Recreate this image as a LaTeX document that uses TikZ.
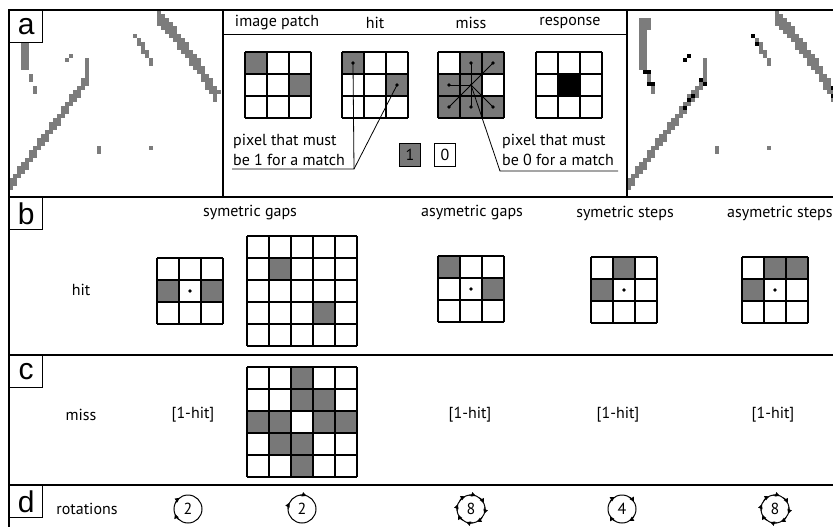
\documentclass[tikz,border=0pt]{standalone}
\usepackage{fontspec}
\setmainfont{PT Sans}
\newfontfamily\labelfont{Liberation Sans}
\usetikzlibrary{arrows.meta}
\definecolor{CellGray}{HTML}{787878}
\definecolor{PixGray}{HTML}{7C7C7C}

% n x n kernel grid: x, y (top left), n, cell size
\newcommand{\kgrid}[4]{%
  \foreach \k in {0,...,#3} {
    \draw[gridline] (#1+\k*#4,#2) -- (#1+\k*#4,#2+#3*#4);
    \draw[gridline] (#1,#2+\k*#4) -- (#1+#3*#4,#2+\k*#4);
  }}
% filled cells: x, y, cell size, list col/row, colour
\newcommand{\kfill}[5]{%
  \foreach \c/\r in {#4} {\fill[#5] (#1+\c*#3,#2+\r*#3) rectangle ++(#3,#3);}}
% thinned edge image (pixel units), x offset
\newcommand{\edgeimage}[1]{%
  \begin{scope}[shift={(#1,10)},x=4pt,y=-4pt]
    \foreach \i/\ja/\jb in {3/2/14,4/2/14,5/2/4,5/16/17,6/19/20,14/12/12,15/11/11,
        19/12/18,31/6/6,32/7/8,33/8/10,34/10/11,35/12/13,22/34/35,35/34/34,52/20/20}
      {\fill[PixGray] (\i,\ja) rectangle (\i+1,\jb+1);}
    % long diagonal
    \foreach \i in {0,...,18} {
      \pgfmathtruncatemacro\jc{round(43-1.37*\i)}
      \fill[PixGray] (\i,\jc-1) rectangle (\i+1,\jc+2);}
    % curved edge at the top right
    \foreach \i in {37,...,51} {
      \pgfmathtruncatemacro\jt{round((\i-37)+0.025*(\i-37)^2)}
      \fill[PixGray] (\i,\jt) rectangle (\i+1,\jt+4);}
  \end{scope}}
% rotation tips round a circle node
\newcommand{\rottips}[2]{%
  \foreach \a in {#2} {\draw[rottip] ([shift={(\a-28:14)}]#1.center) arc[start angle=\a-28,end angle=\a,radius=14];}}

\begin{document}
\begin{tikzpicture}[x=1pt,y=-1pt,
    frame/.style={line width=2.4pt},
    sep/.style={line width=1.8pt},
    gridline/.style={line width=1.3pt},
    panel/.style={draw,line width=1.2pt,fill=white,inner sep=0pt,anchor=north west,
                  minimum width=33pt,minimum height=32pt,font=\labelfont\fontsize{30}{30}\selectfont},
    txt/.style={font=\fontsize{16}{20}\selectfont,inner sep=0pt},
    lead/.style={line width=0.8pt},
    dot/.style={circle,fill,inner sep=0pt,minimum size=3.6pt},
    legbox/.style={draw,line width=1pt,minimum width=21pt,minimum height=23pt,inner sep=0pt,txt},
    rotnode/.style={circle,draw,line width=1pt,minimum size=28pt,inner sep=0pt,txt},
    rottip/.style={line width=1pt,-{Triangle[length=4.5pt,width=4.5pt]}}
  ]
  \useasboundingbox (0,0) rectangle (833,527);
  \clip (0,0) rectangle (833,527);

  % panel a: input and output images
  \edgeimage{9}
  \edgeimage{627}
  \begin{scope}[shift={(627,10)},x=4pt,y=-4pt]
    \foreach \i/\j in {4/15,5/15,5/18,6/18,14/12,15/11,18/17,19/18,16/21,15/22,14/24,
        31/6,32/8,51/19,51/21}
      {\fill[black] (\i,\j) rectangle (\i+1,\j+1);}
  \end{scope}

  % frame and separators
  \draw[frame] (9,10) rectangle (860,560);
  \draw[sep] (9,197) -- (860,197);
  \draw[sep] (9,355) -- (860,355);
  \draw[sep] (9,485) -- (860,485);
  \draw[sep] (223,10) -- (223,197);
  \draw[sep] (627,10) -- (627,197);
  \draw[line width=1pt] (223,35) -- (627,35);

  % panel a: operator
  \node[txt] (tpatch) at (277,23) {image patch};
  \node[txt] (thit) at (375,23) {hit};
  \node[txt] (tmiss) at (471,23) {miss};
  \node[txt] (tresp) at (570,23) {response};

  \kfill{245}{52}{22}{0/0,2/1}{CellGray}
  \kgrid{245}{52}{3}{22}
  \kfill{342}{52}{22}{0/0,2/1}{CellGray}
  \kgrid{342}{52}{3}{22}
  \kfill{438}{52}{22}{1/0,2/0,0/1,1/1,0/2,1/2,2/2}{CellGray}
  \kgrid{438}{52}{3}{22}
  \kfill{536}{52}{22}{1/1}{black}
  \kgrid{536}{52}{3}{22}

  \node[dot] (h1) at (353,63) {};
  \node[dot] (h2) at (397,85) {};
  \coordinate (hj) at (354,169);
  \coordinate (hl) at (232,169);
  \draw[lead] (hl) -- (hj) -- (h1.center);
  \draw[lead] (hj) -- (h2.center);

  \coordinate (mc) at (471,85);
  \foreach \n/\p in {1/{(471,63)},2/{(493,63)},3/{(449,85)},4/{(449,107)},5/{(471,107)},6/{(493,107)}} {
    \node[dot] (m\n) at \p {};
    \draw[lead] (mc) -- (m\n.center);}
  \node[dot,minimum size=2.6pt] (mcd) at (mc) {};
  \coordinate (mj) at (500,171);
  \coordinate (mr) at (618,171);
  \draw[lead] (mc) -- (mj) -- (mr);

  \node[txt,align=left,anchor=west] (tone) at (233,150) {pixel that must\\be 1 for a match};
  \node[txt,align=left,anchor=west] (tzero) at (502,150) {pixel that must\\be 0 for a match};
  \node[legbox,fill=CellGray] (kone) at (410,155) {1};
  \node[legbox,fill=white] (kzero) at (445,155) {0};

  % panel b: hit kernels
  \node[txt] (tsg) at (250,213) {symetric gaps};
  \node[txt] (tag) at (472,213) {asymetric gaps};
  \node[txt] (tss) at (625,213) {symetric steps};
  \node[txt,anchor=west] (tas) at (727,213) {asymetric steps};
  \node[txt] (thitb) at (81,290) {hit};

  \kfill{157}{258}{22}{0/1,2/1}{CellGray}
  \kgrid{157}{258}{3}{22}
  \node[dot] (d1) at (190,291) {};
  \kfill{247}{236}{22}{1/1,3/3}{CellGray}
  \kgrid{247}{236}{5}{22}
  \kfill{438}{256}{22}{0/0,2/1}{CellGray}
  \kgrid{438}{256}{3}{22}
  \node[dot] (d2) at (471,289) {};
  \kfill{591}{257}{22}{1/0,0/1}{CellGray}
  \kgrid{591}{257}{3}{22}
  \node[dot] (d3) at (624,290) {};
  \kfill{742}{257}{22}{1/0,2/0,0/1}{CellGray}
  \kgrid{742}{257}{3}{22}
  \node[dot] (d4) at (775,290) {};

  % panel c: miss kernels
  \node[txt] (tmissc) at (81,415) {miss};
  \node[txt] (c1) at (193,415) {[1-hit]};
  \node[txt] (c2) at (470,415) {[1-hit]};
  \node[txt] (c3) at (618,415) {[1-hit]};
  \node[txt] (c4) at (773,415) {[1-hit]};
  \kfill{247}{367}{22}{2/0,2/1,3/1,0/2,1/2,3/2,4/2,1/3,2/3,2/4}{CellGray}
  \kgrid{247}{367}{5}{22}

  % panel d: rotations
  \node[txt] (trot) at (87,509) {rotations};
  \node[rotnode] (r1) at (188,509) {2};
  \node[rotnode] (r2) at (302,509) {2};
  \node[rotnode] (r3) at (471,509) {8};
  \node[rotnode] (r4) at (622,509) {4};
  \node[rotnode] (r5) at (775,509) {8};
  \rottips{r1}{233,159}
  \rottips{r2}{289,207}
  \rottips{r3}{20,65,110,155,200,245,290,335}
  \rottips{r4}{329,239,149,59}
  \rottips{r5}{20,65,110,155,200,245,290,335}

  % panel labels
  \node[panel] (la) at (9,10) {a};
  \node[panel] (lb) at (9,197) {b};
  \node[panel] (lc) at (9,355) {c};
  \node[panel] (ld) at (9,485) {d};
\end{tikzpicture}
\end{document}
